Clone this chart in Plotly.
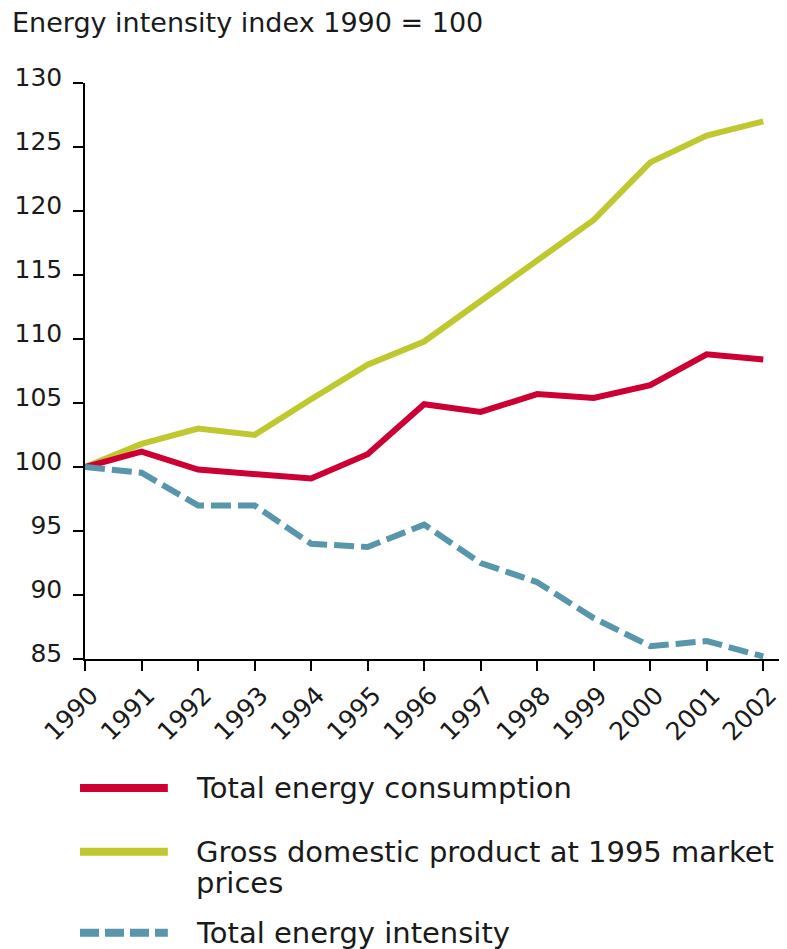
import plotly.graph_objects as go

years = list(range(1990, 2003))
consumption = [100, 101.2, 99.8, 99.5, 99.1, 101.0, 104.9, 104.3, 105.7, 105.4, 106.4, 108.8, 108.4]
gdp = [100, 101.8, 103.0, 102.5, 105.3, 108.0, 109.8, 113.0, 116.2, 119.3, 123.8, 125.9, 127.0]
intensity = [100, 99.55, 97.0, 97.0, 94.0, 93.75, 95.5, 92.5, 91.0, 88.2, 86.0, 86.4, 85.2]

RED = "#cc0033"
GREEN = "#bfc92f"
BLUE = "#5796ab"
FONT = "DejaVu Sans"
INK = "#1a1a1a"

fig = go.Figure()
fig.add_trace(go.Scatter(x=years, y=gdp, mode="lines", line=dict(color=GREEN, width=6), showlegend=False))
fig.add_trace(go.Scatter(x=years, y=consumption, mode="lines", line=dict(color=RED, width=6), showlegend=False))
fig.add_trace(go.Scatter(x=years, y=intensity, mode="lines", line=dict(color=BLUE, width=6, dash="20px,7px"), showlegend=False))

axis_style = dict(showline=True, linecolor="black", linewidth=1.5, ticks="outside", ticklen=10,
                  tickcolor="black", tickwidth=1.5, showgrid=False, zeroline=False,
                  tickfont=dict(family=FONT, size=25, color=INK))

fig.update_xaxes(range=[1990, 2002.42], tickvals=years, tickangle=-45, ticklabelshift=6, **axis_style)
fig.update_yaxes(range=[85, 130], dtick=5, ticklabelstandoff=6, ticklabelshift=-6, **axis_style)

# legend drawn by hand so samples and text sit like the original (paper y from page pixels)
def py(page_y):
    return (659 - page_y) / 576.5

legend_rows = [
    ("Total energy consumption", RED, "solid", 788),
    ("Gross domestic product at 1995 market", GREEN, "solid", 852),
    ("Total energy intensity", BLUE, "19px,6px", 933),
]
for text, color, dash, yy in legend_rows:
    fig.add_shape(type="line", xref="paper", yref="paper", x0=-0.0071, x1=0.118, y0=py(yy), y1=py(yy),
                  line=dict(color=color, width=8, dash=dash))
    fig.add_annotation(text=text, xref="paper", yref="paper", x=0.155, y=py(yy),
                       xanchor="left", yanchor="middle", showarrow=False,
                       font=dict(family=FONT, size=29, color=INK))
# second line of the GDP label
fig.add_annotation(text="prices", xref="paper", yref="paper", x=0.155, y=py(883),
                   xanchor="left", yanchor="middle", showarrow=False,
                   font=dict(family=FONT, size=29, color=INK))

fig.add_annotation(text="Energy intensity index 1990 = 100", xref="paper", yref="paper",
                   x=-0.107, y=py(22), xanchor="left", yanchor="middle", showarrow=False,
                   font=dict(family=FONT, size=27, color=INK))

# page body has an 8px margin, so the figure is shrunk to keep the plot area in place
fig.update_layout(width=779, height=941, margin=dict(l=77, r=0, t=74.5, b=290),
                  plot_bgcolor="white", paper_bgcolor="white")

fig.write_html("out.html")
